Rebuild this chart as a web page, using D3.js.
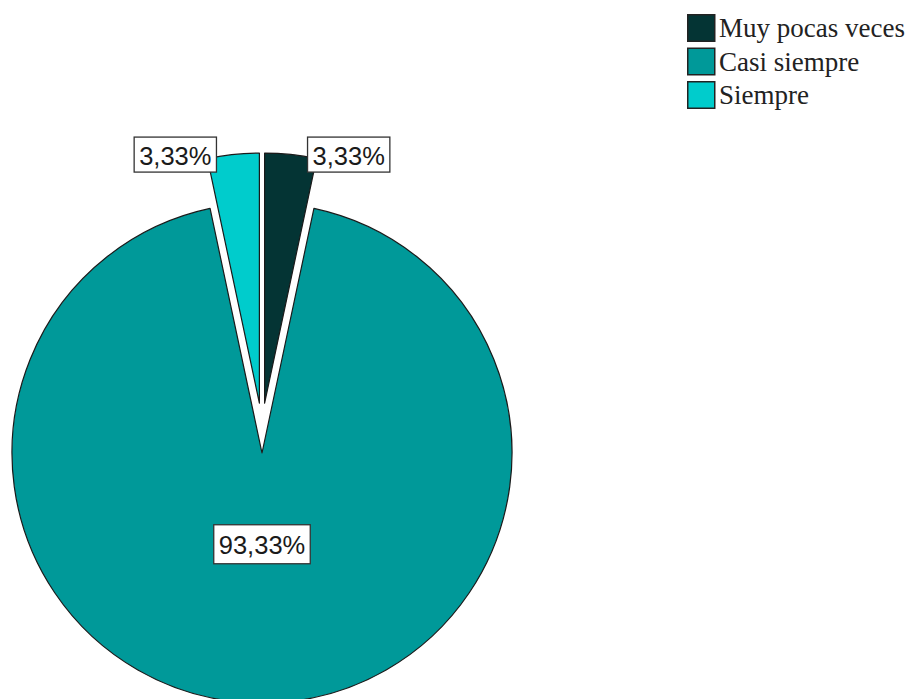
<!DOCTYPE html>
<html>
<head>
<meta charset="utf-8">
<script src="https://cdn.jsdelivr.net/npm/d3@7/dist/d3.min.js"></script>
<style>
  html, body { margin: 0; padding: 0; background: #ffffff; }
  svg { display: block; }
  .legend-text { font-family: "Liberation Serif", "Times New Roman", "DejaVu Serif", serif; }
  .value-label { font-family: "Liberation Sans", Arial, sans-serif; }
</style>
</head>
<body>
<svg id="chart" width="914" height="699"></svg>
<script>
// Response categories and their share of answers (%)
const categories = ["Muy pocas veces", "Casi siempre", "Siempre"];
const percentages = [3.33, 93.33, 3.33];
const colors = ["#043434", "#009999", "#00cccc"];

const width = 914, height = 699;
const cx = 262, cy = 428;      // pie origin
const radius = 250;
const explode = 25;            // every slice is pulled out from the origin

const svg = d3.select("#chart");

const pie = d3.pie().sort(null).value(d => d.value).startAngle(0).endAngle(2 * Math.PI);
const arcs = pie(categories.map((c, i) => ({ name: c, value: percentages[i], color: colors[i] })));

const arc = d3.arc().innerRadius(0).outerRadius(radius);
const fmt = v => d3.format(".2f")(v).replace(".", ",") + "%";

// offset of a slice along its bisector
function offset(d) {
  const a = (d.startAngle + d.endAngle) / 2;
  return [explode * Math.sin(a), -explode * Math.cos(a)];
}

const pieG = svg.append("g").attr("transform", `translate(${cx},${cy})`);

pieG.selectAll("path.slice")
  .data(arcs)
  .join("path")
  .attr("class", "slice")
  .attr("transform", d => { const o = offset(d); return `translate(${o[0]},${o[1]})`; })
  .attr("d", arc)
  .attr("fill", d => d.data.color)
  .attr("stroke", "#1a1a1a")
  .attr("stroke-width", 1.2)
  .attr("stroke-linejoin", "round");

// Value labels: white boxes with a thin dark border
const labelFont = 25.5;
const labelG = svg.append("g");

arcs.forEach(d => {
  const o = offset(d);
  const txt = fmt(d.data.value);
  const g = labelG.append("g");
  const t = g.append("text")
    .attr("class", "value-label")
    .attr("font-size", labelFont)
    .attr("fill", "#1a1a1a")
    .attr("text-anchor", "middle")
    .attr("dominant-baseline", "central")
    .text(txt);
  const tw = t.node().getComputedTextLength();
  const span = d.endAngle - d.startAngle;
  const bw = tw + 10, bh = span > Math.PI ? 39 : 35;
  let lx, ly;
  if (span > Math.PI) {
    // big slice: label inside, on the bisector
    const a = (d.startAngle + d.endAngle) / 2;
    const rr = radius * 0.365;
    lx = cx + o[0] + rr * Math.sin(a);
    ly = cy + o[1] - rr * Math.cos(a);
  } else {
    // small slice: label sits at the outer corner, extending outward
    const mid = (d.startAngle + d.endAngle) / 2;
    const right = Math.sin(mid) > 0;
    const ang = right ? d.endAngle : d.startAngle;
    const px = cx + o[0] + radius * Math.sin(ang);
    const py = cy + o[1] - radius * Math.cos(ang);
    lx = right ? px - 9 + bw / 2 : px + 9 - bw / 2;
    ly = py - 4;
  }
  g.insert("rect", "text")
    .attr("x", lx - bw / 2)
    .attr("y", ly - bh / 2)
    .attr("width", bw)
    .attr("height", bh)
    .attr("fill", "#ffffff")
    .attr("stroke", "#333333")
    .attr("stroke-width", 1.3);
  t.attr("x", lx).attr("y", ly + 1);
});

// Legend
const legend = svg.append("g").attr("transform", "translate(687,14)");
const rowH = 33.5;
const item = legend.selectAll("g.item")
  .data(categories)
  .join("g")
  .attr("class", "item")
  .attr("transform", (d, i) => `translate(0,${i * rowH})`);

item.append("rect")
  .attr("x", 0.75).attr("y", 0.75)
  .attr("width", 27).attr("height", 26.5)
  .attr("fill", (d, i) => colors[i])
  .attr("stroke", "#222222")
  .attr("stroke-width", 1.5);

item.append("text")
  .attr("class", "legend-text")
  .attr("x", 32)
  .attr("y", 23)
  .attr("font-size", 27)
  .attr("fill", "#222222")
  .text(d => d);
</script>
</body>
</html>
